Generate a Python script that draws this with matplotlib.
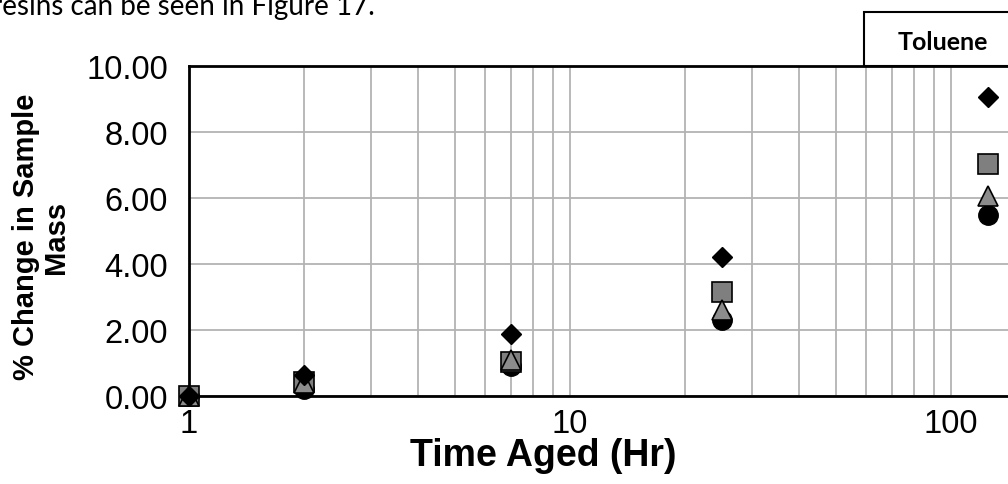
import matplotlib
matplotlib.use("Agg")
import matplotlib.pyplot as plt
from matplotlib.ticker import FixedLocator, LogLocator, NullFormatter
from matplotlib.patches import Rectangle

plt.rcParams['font.family'] = ['Liberation Sans', 'DejaVu Sans']

# data
hours = [1, 2, 7, 25, 125]
diamond = [0.0, 0.65, 1.88, 4.22, 9.07]
square = [0.0, 0.42, 1.03, 3.16, 7.02]
triangle = [0.0, 0.40, 1.10, 2.62, 6.05]
circle = [0.0, 0.22, 0.90, 2.31, 5.50]

yticks = [0, 2, 4, 6, 8, 10]
ytick_labels = ["0.00", "2.00", "4.00", "6.00", "8.00", "10.00"]
xticks = [1, 10, 100]
xtick_labels = ["1", "10", "100"]

W, H = 1008, 485
fig = plt.figure(figsize=(W / 100, H / 100), dpi=100)

# axes runs past the right edge (log axis up to 1000, cropped like the source)
left, right, top, bottom = 189, 189 + 3 * 381, 67, 397
ax = fig.add_axes([left / W, 1 - bottom / H, (right - left) / W, (bottom - top) / H])
ax.set_xscale('log')
ax.set_xlim(1, 1000)
ax.set_ylim(0, 10)

ax.xaxis.set_major_locator(FixedLocator(xticks))
ax.xaxis.set_minor_locator(LogLocator(base=10, subs=range(2, 10)))
ax.xaxis.set_minor_formatter(NullFormatter())
ax.set_xticks(xticks)
ax.set_xticklabels(xtick_labels, fontsize=23.5)
ax.set_yticks(yticks)
ax.set_yticklabels(ytick_labels, fontsize=23.5)
ax.tick_params(axis='both', which='both', length=0)
ax.tick_params(axis='x', pad=9)
ax.tick_params(axis='y', pad=15)

ax.grid(True, which='both', axis='x', color='#b3b3b3', lw=1.3)
ax.grid(True, which='major', axis='y', color='#b3b3b3', lw=1.3)
ax.set_axisbelow(True)
for s in ['left', 'bottom', 'top']:
    ax.spines[s].set_color('black')
    ax.spines[s].set_linewidth(2)
ax.spines['right'].set_visible(False)

ax.plot(hours, circle, 'o', ms=14, color='black', ls='none', zorder=2, clip_on=False)
ax.plot(hours, square, 's', ms=14, mfc='#7f7f7f', mec='black', mew=1.2, ls='none', zorder=3, clip_on=False)
ax.plot(hours, triangle, '^', ms=14, mfc='#8c8c8c', mec='black', mew=1.2, ls='none', zorder=4, clip_on=False)
ax.plot(hours, diamond, 'D', ms=10, color='black', ls='none', zorder=5, clip_on=False)

# axis titles
fig.text(543 / W, 1 - 456 / H, "Time Aged (Hr)", fontsize=27, fontweight='bold',
         ha='center', va='center')
fig.text(41 / W, 1 - 237 / H, "% Change in Sample\nMass", fontsize=21, fontweight='bold',
         ha='center', va='center', rotation=90, linespacing=1.1, multialignment='center')

# "Toluene" box at top right
box = Rectangle((864 / W, 1 - 67 / H), 200 / W, 54 / H, transform=fig.transFigure,
                fill=False, edgecolor='black', lw=1.5, clip_on=False)
fig.add_artist(box)
fig.text(943 / W, 1 - 42 / H, "Toluene", fontsize=18, fontweight='bold',
         family=['Lato', 'DejaVu Sans'], ha='center', va='center')

# document text above the chart, cropped at the top edge as in the source
fig.text(-8 / W, 1 - 15 / H, "resins can be seen in Figure 17.", fontsize=20,
         family=['Lato', 'DejaVu Sans'], ha='left', va='baseline')

fig.savefig("out.png", dpi=100)
